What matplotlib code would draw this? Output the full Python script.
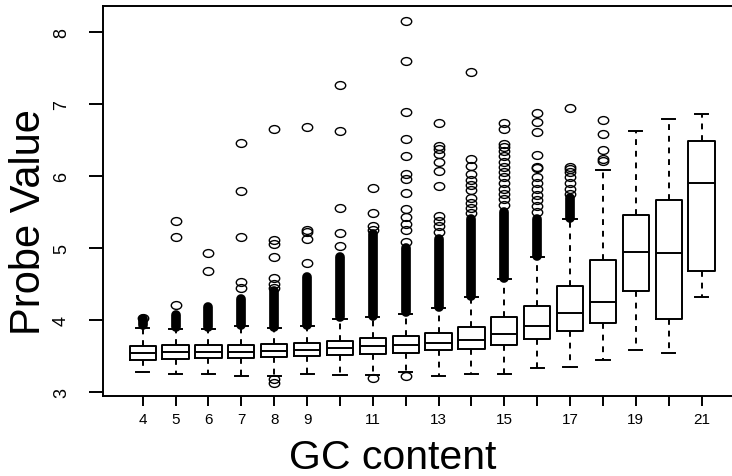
import numpy as np
import matplotlib.pyplot as plt
from matplotlib.path import Path
from matplotlib.transforms import Affine2D

plt.rcParams['font.family'] = ['Liberation Sans', 'DejaVu Sans']

######## values ########
gc = list(range(4, 22))
tick_labels = ['4', '5', '6', '7', '8', '9', '', '11', '', '13', '', '15',
               '', '17', '', '19', '', '21']

whislo = [3.28, 3.26, 3.26, 3.23, 3.23, 3.25, 3.24, 3.24, 3.28, 3.23,
          3.26, 3.26, 3.34, 3.35, 3.45, 3.59, 3.54, 4.32]
q1 = [3.45, 3.46, 3.47, 3.475, 3.485, 3.51, 3.52, 3.53, 3.55, 3.58,
      3.60, 3.66, 3.74, 3.85, 3.96, 4.40, 4.02, 4.68]
med = [3.545, 3.555, 3.555, 3.565, 3.57, 3.59, 3.61, 3.64, 3.66, 3.69,
       3.73, 3.81, 3.92, 4.10, 4.25, 4.95, 4.93, 5.90]
q3 = [3.64, 3.65, 3.65, 3.66, 3.67, 3.69, 3.71, 3.75, 3.78, 3.82,
      3.90, 4.04, 4.20, 4.48, 4.84, 5.46, 5.66, 6.48]
whishi = [3.89, 3.88, 3.88, 3.92, 3.89, 3.92, 4.02, 4.04, 4.09, 4.17,
          4.32, 4.57, 4.87, 5.40, 6.08, 6.63, 6.79, 6.86]

# single outliers that can be told apart
outliers = [
    [4.03],
    [5.37, 5.16, 4.21],
    [4.93, 4.68],
    [6.46, 5.79, 5.16, 4.53, 4.44],
    [6.65, 5.11, 5.06, 4.87, 4.58, 4.50, 4.45, 3.18, 3.13],
    [6.68, 5.25, 5.22, 5.13, 4.79],
    [7.26, 6.62, 5.55, 5.21, 5.03],
    [5.84, 5.48, 5.30, 5.25, 3.20],
    [8.15, 7.60, 6.89, 6.51, 6.27, 6.03, 5.96, 5.76, 5.54, 5.43, 5.33,
     5.25, 5.08, 3.22],
    [6.74, 6.42, 6.38, 6.30, 6.19, 6.07, 5.86, 5.45, 5.38, 5.30, 5.22],
    [7.44, 6.24, 6.14, 6.03, 5.95, 5.88, 5.80, 5.70, 5.62, 5.55, 5.48],
    [6.74, 6.65, 6.44, 6.40, 6.34, 6.28, 6.20, 6.12, 6.05, 5.98, 5.90,
     5.82, 5.75, 5.68, 5.60],
    [6.87, 6.75, 6.61, 6.29, 6.13, 6.11, 5.98, 5.90, 5.82, 5.74, 5.66,
     5.58, 5.50],
    [6.94, 6.13, 6.10, 6.05, 5.98, 5.90, 5.82, 5.75],
    [6.77, 6.58, 6.36, 6.24, 6.21],
    [],
    [],
    [],
]

# ranges where the outlier circles pile up into a solid column
dense_lo = [3.93, 3.90, 3.90, 3.94, 3.91, 3.94, 4.04, 4.06, 4.11, 4.19,
            4.34, 4.59, 4.89, 5.42, np.nan, np.nan, np.nan, np.nan]
dense_hi = [4.01, 4.07, 4.18, 4.29, 4.40, 4.60, 4.87, 5.20, 5.00, 5.13,
            5.40, 5.50, 5.40, 5.70, np.nan, np.nan, np.nan, np.nan]

########### end of values ###########

fig = plt.figure(figsize=(7.32, 4.77), dpi=100)
# axes runs off the right side like in the reference (cropped R plot)
ax = fig.add_axes([0.1411, 0.1671, 0.8712, 0.8172])

stats = []
for i in range(len(gc)):
    stats.append(dict(whislo=whislo[i], q1=q1[i], med=med[i], q3=q3[i],
                      whishi=whishi[i], fliers=outliers[i]))

# R's open circles look a bit flat in the reference
oval = Affine2D().scale(1.0, 0.75).transform_path(Path.unit_circle())

lw = 1.4
ax.bxp(stats, positions=gc, widths=0.8, showfliers=True,
       boxprops=dict(lw=lw, color='black'),
       medianprops=dict(lw=lw, color='black'),
       whiskerprops=dict(lw=lw, color='black', linestyle=(0, (3, 3))),
       capprops=dict(lw=lw, color='black'),
       flierprops=dict(marker=oval, markersize=7.5, markerfacecolor='none',
                       markeredgecolor='black', markeredgewidth=1.0))

dense = ax.vlines(gc, dense_lo, dense_hi, colors='black', lw=7)
dense.set_capstyle('round')

ax.set_xlim(2.80, 22.2)
ax.set_ylim(2.945, 8.35)

ax.set_xticks(gc)
ax.set_xticklabels(tick_labels)
ax.set_yticks([3, 4, 5, 6, 7, 8])
ax.set_yticklabels(['3', '4', '5', '6', '7', '8'], rotation=90, va='center')

ax.tick_params(axis='x', length=7, width=lw, labelsize=11, pad=4.5)
ax.tick_params(axis='y', length=10, width=lw, labelsize=13, pad=14)
for sp in ax.spines.values():
    sp.set_linewidth(lw)

fig.text(0.536, 0.001, 'GC content', fontsize=29.5, ha='center', va='bottom')
fig.text(0.039, 0.535, 'Probe Value', fontsize=30, ha='center', va='center',
         rotation=90)

plt.savefig('out.png', dpi=100)
